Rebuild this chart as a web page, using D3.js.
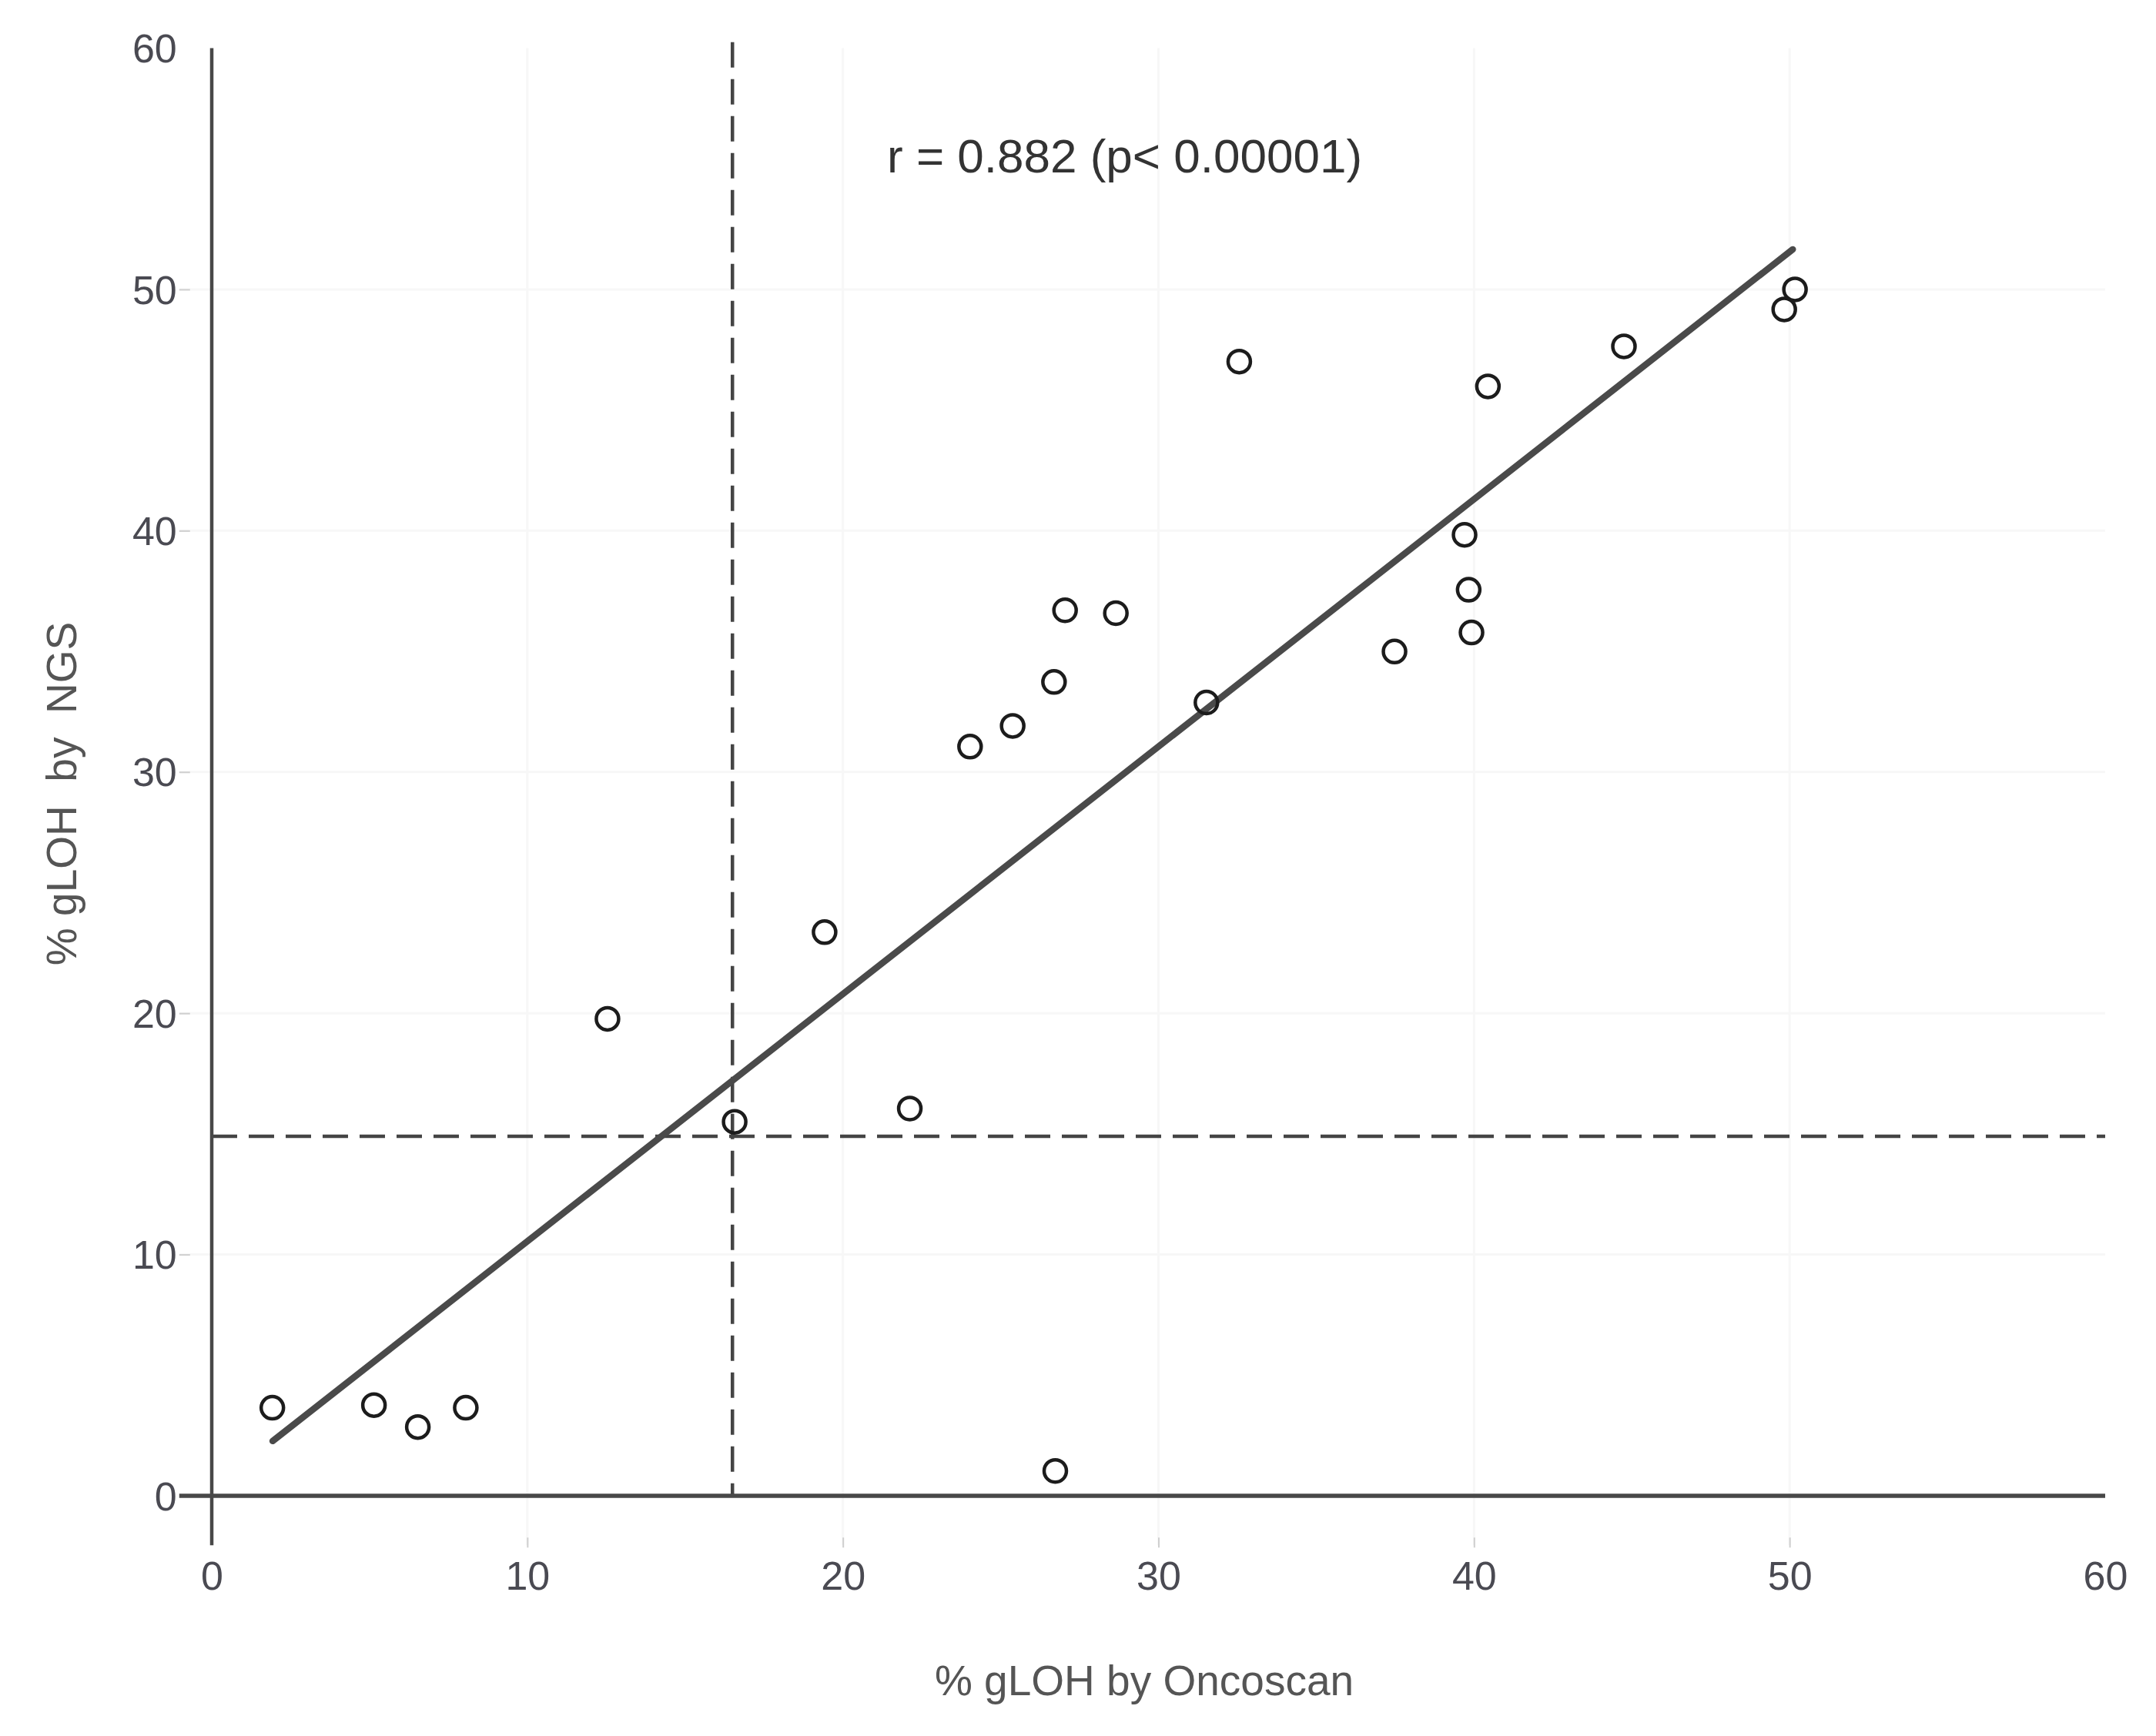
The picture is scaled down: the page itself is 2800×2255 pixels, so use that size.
<!DOCTYPE html>
<html lang="en">
  <head>
    <meta charset="utf-8">
    <title>gLOH NGS vs Oncoscan</title>
    <script src="https://d3js.org/d3.v7.min.js"></script>
    <style>
      body { margin: 0; background: #fff; }
      text { font-family: "Liberation Sans", Arial, sans-serif; }
    </style>
  </head>
  <body>
    <div id="chart"></div>
    <script>

// data
var oncoscan = [1.92, 5.14, 6.53, 8.05, 12.54, 16.57, 19.42, 22.12, 24.03, 25.38, 26.69, 27.04,
                28.65, 26.73, 31.52, 32.56, 37.48, 39.70, 39.83, 39.92, 40.44, 44.75, 49.83, 50.17];
var ngs      = [3.65, 3.76, 2.85, 3.65, 19.77, 15.5, 23.36, 16.05, 31.05, 31.91, 33.73, 36.70,
                36.58, 1.03, 32.88, 47.01, 34.99, 39.83, 37.55, 35.78, 45.98, 47.64, 49.17, 50.0];

// fitted line end points
var fitX = [1.93, 50.1];
var fitY = [2.27, 51.66];

// cut-offs
var cutX = 16.5;
var cutY = 14.9;

var xTicks = [0, 10, 20, 30, 40, 50, 60];
var yTicks = [0, 10, 20, 30, 40, 50, 60];
var xMinorMarks = [10, 20, 30, 40, 50];

var annotation = "r = 0.882 (p< 0.00001)";
var annotPos = [21.4, 55.55];
var xTitle = "% gLOH by Oncoscan";
var yTitle = "% gLOH  by  NGS";

var points = oncoscan.map(function(d, i) { return {x: d, y: ngs[i]}; });

//constants
var w = 2800;
var h = 2255;

var xScale = d3.scaleLinear().domain([0, 60]).range([275, 2734]);
var yScale = d3.scaleLinear().domain([0, 60]).range([1943, 62.5]);

// plot area edges (zero lines run a bit past the origin)
var left = xScale(-1.03);
var bottom = yScale(-2.05);

var svg = d3.select("#chart")
  .append("svg")
    .attr("width", w)
    .attr("height", h);

// grid
svg.append("g").attr("id", "gridX")
  .selectAll("line")
  .data(xTicks.filter(d => d > 0 && d < 60))
  .enter().append("line")
    .attr("x1", d => xScale(d)).attr("x2", d => xScale(d))
    .attr("y1", yScale(60)).attr("y2", bottom)
    .attr("stroke", "#f7f7f7")
    .attr("stroke-width", 3);

svg.append("g").attr("id", "gridY")
  .selectAll("line")
  .data(yTicks.filter(d => d > 0 && d < 60))
  .enter().append("line")
    .attr("x1", left).attr("x2", xScale(60))
    .attr("y1", d => yScale(d)).attr("y2", d => yScale(d))
    .attr("stroke", "#f7f7f7")
    .attr("stroke-width", 3);

// axes (labels + small ticks)
var xAxis = d3.axisBottom(xScale).tickValues(xTicks).tickSize(13).tickPadding(0);
var gx = svg.append("g")
    .attr("id", "xAxis")
    .attr("transform", `translate(0, ${bottom - 10})`)
    .call(xAxis);
gx.select(".domain").remove();
gx.selectAll(".tick line")
    .attr("stroke", "#cfcfcf")
    .attr("stroke-width", 2)
    .style("display", d => xMinorMarks.includes(d) ? null : "none");
gx.selectAll(".tick text")
    .attr("y", 50)
    .attr("dy", "0.35em")
    .attr("font-size", 52)
    .attr("fill", "#4a4a52");

var yAxis = d3.axisLeft(yScale).tickValues(yTicks).tickSize(14).tickPadding(0);
var gy = svg.append("g")
    .attr("id", "yAxis")
    .attr("transform", `translate(${left + 14}, 0)`)
    .call(yAxis);
gy.select(".domain").remove();
gy.selectAll(".tick line")
    .attr("stroke", "#cfcfcf")
    .attr("stroke-width", 2)
    .style("display", d => (d > 0 && d < 60) ? null : "none");
gy.selectAll(".tick text")
    .attr("x", -17)
    .attr("dy", "0.35em")
    .attr("font-size", 52)
    .attr("fill", "#4a4a52");

// dashed cut-off lines
svg.append("line")
    .attr("x1", xScale(cutX)).attr("x2", xScale(cutX))
    .attr("y1", yScale(60.25)).attr("y2", yScale(0))
    .attr("stroke", "#444")
    .attr("stroke-width", 4.5)
    .attr("stroke-dasharray", "33,15");

svg.append("line")
    .attr("x1", xScale(0)).attr("x2", xScale(60))
    .attr("y1", yScale(cutY)).attr("y2", yScale(cutY))
    .attr("stroke", "#444")
    .attr("stroke-width", 4.5)
    .attr("stroke-dasharray", "33,15");

// zero lines
svg.append("line")
    .attr("x1", left).attr("x2", xScale(60))
    .attr("y1", yScale(0)).attr("y2", yScale(0))
    .attr("stroke", "#484848")
    .attr("stroke-width", 5.5);

svg.append("line")
    .attr("x1", xScale(0)).attr("x2", xScale(0))
    .attr("y1", yScale(60)).attr("y2", bottom)
    .attr("stroke", "#484848")
    .attr("stroke-width", 4.5);

// regression line
var fitLine = d3.line()
    .x(d => xScale(d[0]))
    .y(d => yScale(d[1]));

svg.append("path")
    .datum(fitX.map((d, i) => [d, fitY[i]]))
    .attr("d", fitLine)
    .attr("fill", "none")
    .attr("stroke", "#4a4a4a")
    .attr("stroke-width", 8.5)
    .attr("stroke-linecap", "round");

// points
svg.append("g").attr("id", "points")
  .selectAll("circle")
  .data(points)
  .enter().append("circle")
    .attr("cx", d => xScale(d.x))
    .attr("cy", d => yScale(d.y))
    .attr("r", 14.5)
    .attr("fill", "none")
    .attr("stroke", "#1c1c1c")
    .attr("stroke-width", 4.5);

// annotation
svg.append("text")
    .attr("x", xScale(annotPos[0]))
    .attr("y", yScale(annotPos[1]))
    .attr("dy", "0.35em")
    .attr("font-size", 62)
    .attr("fill", "#333")
    .text(annotation);

// axis titles
svg.append("text")
    .attr("x", 1486)
    .attr("y", 2183)
    .attr("dy", "0.35em")
    .attr("text-anchor", "middle")
    .attr("font-size", 55)
    .attr("fill", "#555")
    .text(xTitle);

svg.append("text")
    .attr("transform", "translate(80, 1031) rotate(-90)")
    .attr("dy", "0.35em")
    .attr("text-anchor", "middle")
    .attr("font-size", 55)
    .attr("fill", "#555")
    .style("white-space", "pre")
    .text(yTitle);

    </script>
  </body>
</html>
